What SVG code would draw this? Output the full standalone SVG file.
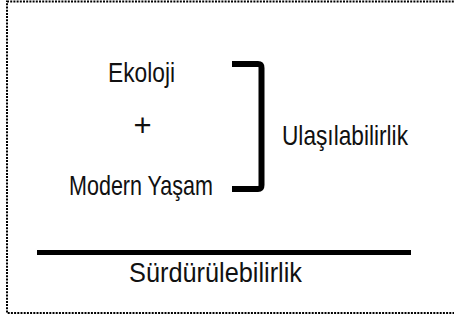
<svg xmlns="http://www.w3.org/2000/svg" width="454" height="320" viewBox="0 0 454 320">
<style>
.t{font-family:"Liberation Sans",Arial,sans-serif;font-size:28px;fill:#111;}
.frame{fill:none;stroke:#000;stroke-width:2;stroke-dasharray:2 1.2;}
.bar{fill:none;stroke:#000;stroke-linecap:butt;stroke-linejoin:round;}
</style>
<rect width="454" height="320" fill="#fff"/>
<rect id="frame" class="frame" x="7" y="1.5" width="452" height="311.5"/>
<g id="ekoloji"><text class="t" x="108" y="82" textLength="67" lengthAdjust="spacingAndGlyphs">Ekoloji</text></g>
<g id="plus"><text class="t" x="142.5" y="136" text-anchor="middle" style="font-size:31px">+</text></g>
<g id="modern-yasam"><text class="t" x="69" y="195" textLength="144" lengthAdjust="spacingAndGlyphs">Modern Yaşam</text></g>
<g id="ulasilabilirlik"><text class="t" x="282" y="145" textLength="126" lengthAdjust="spacingAndGlyphs">Ulaşılabilirlik</text></g>
<g id="surdurulebilirlik"><text class="t" x="129" y="282" textLength="173" lengthAdjust="spacingAndGlyphs">Sürdürülebilirlik</text></g>
<g id="connectors">
<path class="bar" stroke-width="6" d="M232 64 H258 Q261.5 64 261.5 68 V185 Q261.5 189 258 189 H232"/>
<line class="bar" x1="37" y1="252.5" x2="411" y2="252.5" stroke-width="5"/>
</g>
</svg>
